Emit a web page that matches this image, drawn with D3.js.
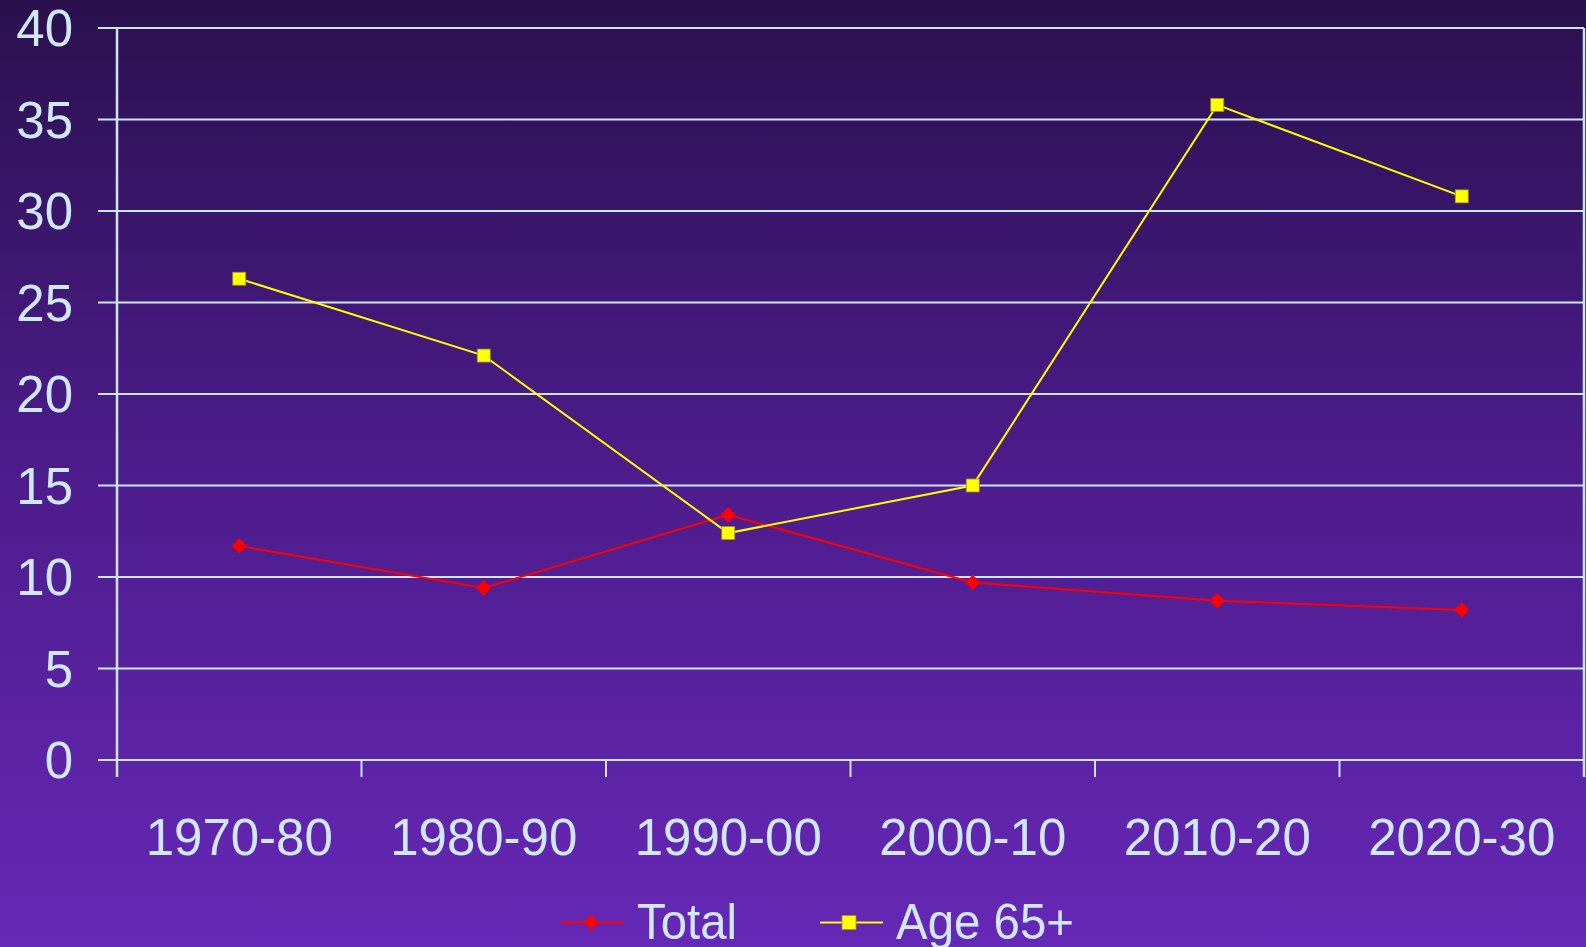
<!DOCTYPE html>
<html>
<head>
<meta charset="utf-8">
<script src="https://cdn.jsdelivr.net/npm/d3@7"></script>
<style>
  html, body { margin: 0; padding: 0; overflow: hidden; }
  svg text { font-family: "Liberation Sans", Arial, sans-serif; fill: #cfe9fb; }
</style>
</head>
<body>
<svg id="chart"></svg>
<script>
const categories = ['1970-80', '1980-90', '1990-00', '2000-10', '2010-20', '2020-30'];
const totalValues = [11.7, 9.4, 13.4, 9.7, 8.7, 8.2];
const age65Values = [26.3, 22.1, 12.4, 15.0, 35.8, 30.8];
const yTicks = [0, 5, 10, 15, 20, 25, 30, 35, 40];
const seriesNames = ['Total', 'Age 65+'];

const W = 1586, H = 947;
const margin = {top: 28, right: 2, bottom: 187, left: 117};
const width = W - margin.left - margin.right;
const height = H - margin.top - margin.bottom;
const lineCol = '#cbe6fb';

const svg = d3.select('#chart').attr('width', W).attr('height', H);

// background gradient
const grad = svg.append('defs').append('linearGradient')
  .attr('id', 'bg').attr('x1', 0).attr('y1', 0).attr('x2', 0).attr('y2', 1);
grad.append('stop').attr('offset', '0%').attr('stop-color', '#2a104e');
grad.append('stop').attr('offset', '50%').attr('stop-color', '#4d1c8c');
grad.append('stop').attr('offset', '100%').attr('stop-color', '#6628b6');
svg.append('rect').attr('width', W).attr('height', H).attr('fill', 'url(#bg)');

const g = svg.append('g').attr('transform', 'translate(' + margin.left + ',' + margin.top + ')');

const x = d3.scaleBand().domain(categories).range([0, width]);
const y = d3.scaleLinear().domain([0, 40]).range([height, 0]);
const cx = (d, i) => x(categories[i]) + x.bandwidth() / 2;

// horizontal grid lines with ticks to the left
g.append('g').selectAll('line').data(yTicks).enter().append('line')
  .attr('x1', -19).attr('x2', width).attr('y1', d => y(d)).attr('y2', d => y(d))
  .attr('stroke', lineCol).attr('stroke-width', 2);

// y labels
g.append('g').selectAll('text').data(yTicks).enter().append('text')
  .attr('x', -44).attr('y', d => y(d)).attr('dy', '0.36em')
  .attr('text-anchor', 'end').attr('font-size', 51).text(d => d);

// left axis, right border
g.append('line').attr('x1', 0).attr('x2', 0).attr('y1', 0).attr('y2', height + 17)
  .attr('stroke', lineCol).attr('stroke-width', 2.5);
g.append('line').attr('x1', width).attr('x2', width).attr('y1', 0).attr('y2', height + 17)
  .attr('stroke', lineCol).attr('stroke-width', 2.5);

// category ticks at band edges
g.append('g').selectAll('line').data(categories.slice(1)).enter().append('line')
  .attr('x1', d => x(d)).attr('x2', d => x(d)).attr('y1', height).attr('y2', height + 17)
  .attr('stroke', lineCol).attr('stroke-width', 2);

// x labels
g.append('g').selectAll('text').data(categories).enter().append('text')
  .attr('x', d => x(d) + x.bandwidth() / 2).attr('y', height + 95)
  .attr('text-anchor', 'middle').attr('font-size', 51).text(d => d);

const line = d3.line().x(cx).y(d => y(d));
const diamond = d3.symbol().type(d3.symbolDiamond2).size(150);

// Total series
g.append('path').datum(totalValues).attr('d', line)
  .attr('fill', 'none').attr('stroke', '#ff0000').attr('stroke-width', 2);
g.append('g').selectAll('path').data(totalValues).enter().append('path')
  .attr('d', diamond).attr('fill', '#ff0000')
  .attr('transform', (d, i) => 'translate(' + cx(d, i) + ',' + y(d) + ')');

// Age 65+ series
g.append('path').datum(age65Values).attr('d', line)
  .attr('fill', 'none').attr('stroke', '#ffff00').attr('stroke-width', 2);
g.append('g').selectAll('rect').data(age65Values).enter().append('rect')
  .attr('x', (d, i) => cx(d, i) - 6.5).attr('y', d => y(d) - 6.5)
  .attr('width', 13).attr('height', 13)
  .attr('fill', '#ffff00').attr('stroke', '#a09020').attr('stroke-width', 0.8);

// legend
const leg = svg.append('g');
const legX = [561, 820];
const legTextW = [100, 178];
seriesNames.forEach((name, i) => {
  const lg = leg.append('g').attr('transform', 'translate(' + legX[i] + ',922.5)');
  const col = i === 0 ? '#ff0000' : '#ffff00';
  lg.append('line').attr('x1', 0).attr('x2', 63).attr('stroke', col).attr('stroke-width', 2);
  if (i === 0) {
    lg.append('path').attr('d', diamond).attr('fill', col).attr('transform', 'translate(30,0)');
  } else {
    lg.append('rect').attr('x', 22).attr('y', -7).attr('width', 14).attr('height', 14)
      .attr('fill', col).attr('stroke', '#a09020').attr('stroke-width', 0.8);
  }
  lg.append('text').attr('x', 76).attr('y', 16.5)
    .attr('font-size', 50).attr('textLength', legTextW[i])
    .attr('lengthAdjust', 'spacingAndGlyphs').text(name);
});
</script>
</body>
</html>
